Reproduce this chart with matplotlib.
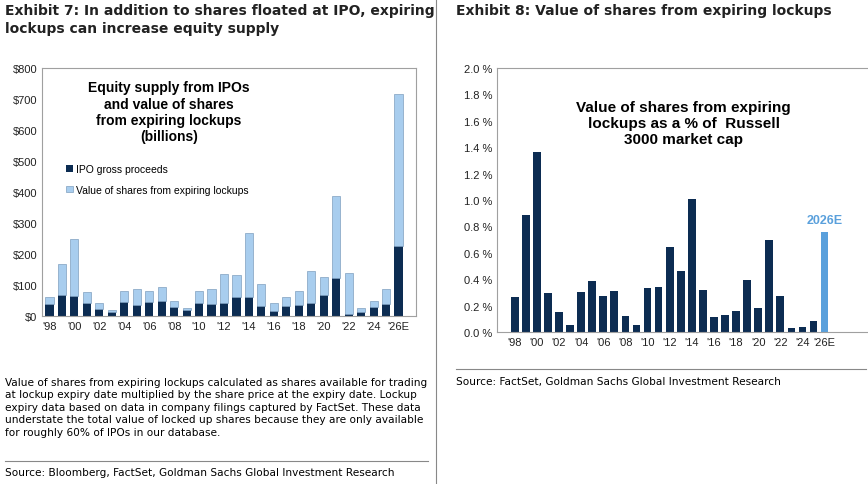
import numpy as np
import matplotlib.pyplot as plt

years = [str(y) for y in range(1998, 2026)] + ['2026E']
ipo = [38, 67, 65, 42, 24, 12, 44, 37, 44, 47, 28, 18, 41, 38, 41, 60, 62, 32, 16, 31, 36, 43, 69, 124, 8, 14, 29, 40, 225]
total = [62, 167, 248, 77, 42, 20, 80, 87, 82, 95, 47, 25, 80, 87, 135, 132, 268, 103, 42, 62, 80, 145, 127, 388, 138, 25, 48, 88, 715]
lockup = [t - i for t, i in zip(total, ipo)]
pct = [0.265, 0.89, 1.36, 0.295, 0.155, 0.055, 0.305, 0.39, 0.275, 0.31, 0.12, 0.05, 0.33, 0.34, 0.645,
       0.465, 1.005, 0.32, 0.11, 0.13, 0.16, 0.395, 0.18, 0.70, 0.275, 0.03, 0.04, 0.08, 0.76]
ticklabels = ["'98", "'00", "'02", "'04", "'06", "'08", "'10", "'12", "'14", "'16", "'18", "'20", "'22", "'24", "'26E"]

navy = '#0c2c52'
light = '#a8cdee'
hi = '#5aa0dc'

W, H = 868, 485
fig = plt.figure(figsize=(W / 100, H / 100), dpi=100)
plt.rcParams['font.family'] = 'Liberation Sans'

x = np.arange(len(years))
tickpos = list(range(0, 28, 2)) + [28]

# left panel
fig.text(5 / W, 1 - 4 / H, 'Exhibit 7: In addition to shares floated at IPO, expiring\nlockups can increase equity supply',
         fontsize=10, fontweight='bold', va='top', color='#222222', family='DejaVu Sans', linespacing=1.35)
ax1 = fig.add_axes([42 / W, 1 - 317 / H, (416 - 42) / W, (317 - 69) / H])
ax1.bar(x, ipo, width=0.65, color=navy, label='IPO gross proceeds')
ax1.bar(x, lockup, width=0.65, bottom=ipo, color=light, edgecolor='#7f9fbf', linewidth=0.5,
        label='Value of shares from expiring lockups')
ax1.set_ylim(0, 800)
ax1.set_xlim(-0.6, 29.4)
ax1.set_yticks(range(0, 801, 100))
ax1.set_yticklabels(['$%d' % v for v in range(0, 801, 100)])
ax1.set_xticks(tickpos)
ax1.set_xticklabels(ticklabels)
ax1.text(0.34, 0.95, 'Equity supply from IPOs\nand value of shares\nfrom expiring lockups\n(billions)',
         transform=ax1.transAxes, ha='center', va='top', fontsize=10, fontweight='bold')
ax1.legend(loc='upper left', bbox_to_anchor=(0.04, 0.65), frameon=False, fontsize=7.5,
           handlelength=0.6, handleheight=0.6, handletextpad=0.3, labelspacing=1.0)

# right panel
fig.text(456 / W, 1 - 4 / H, 'Exhibit 8: Value of shares from expiring lockups',
         fontsize=10, fontweight='bold', va='top', color='#222222', family='DejaVu Sans')
ax2 = fig.add_axes([497 / W, 1 - 333 / H, (870 - 497) / W, (333 - 69) / H])
cols = [navy] * (len(pct) - 1) + [hi]
ax2.bar(x, pct, width=0.7, color=cols)
ax2.set_ylim(0, 2.0)
ax2.set_xlim(-1.6, 32.1)
ax2.set_yticks(np.arange(0, 2.01, 0.2))
ax2.set_yticklabels(['%.1f %%' % v for v in np.arange(0, 2.01, 0.2)])
ax2.set_xticks(tickpos)
ax2.set_xticklabels(ticklabels)
ax2.text(0.5, 0.88, 'Value of shares from expiring\nlockups as a % of  Russell\n3000 market cap',
         transform=ax2.transAxes, ha='center', va='top', fontsize=11, fontweight='bold')
ax2.text(28, pct[-1] + 0.04, '2026E', color=hi, ha='center', va='bottom', fontsize=9, fontweight='bold')

for ax in (ax1, ax2):
    for s in ax.spines.values():
        s.set_color('#a0a0a0')
        s.set_linewidth(0.8)
    ax.tick_params(length=0, labelsize=8, colors='#222222')

# notes and sources
fig.text(5 / W, 1 - 378 / H,
         'Value of shares from expiring lockups calculated as shares available for trading\n'
         'at lockup expiry date multiplied by the share price at the expiry date. Lockup\n'
         'expiry data based on data in company filings captured by FactSet. These data\n'
         'understate the total value of locked up shares because they are only available\n'
         'for roughly 60% of IPOs in our database.', fontsize=7.6, va='top', family='DejaVu Sans',
         linespacing=1.3)
fig.add_artist(plt.Line2D([5 / W, 428 / W], [1 - 462 / H] * 2, color='#888888', lw=0.8))
fig.text(5 / W, 1 - 468 / H, 'Source: Bloomberg, FactSet, Goldman Sachs Global Investment Research',
         fontsize=7.6, va='top', family='DejaVu Sans')
fig.add_artist(plt.Line2D([456 / W, 866 / W], [1 - 370 / H] * 2, color='#888888', lw=0.8))
fig.text(456 / W, 1 - 377 / H, 'Source: FactSet, Goldman Sachs Global Investment Research',
         fontsize=7.6, va='top', family='DejaVu Sans')
fig.add_artist(plt.Line2D([436 / W, 436 / W], [0, 1], color='#888888', lw=0.8))

fig.savefig('out.png', dpi=100)
